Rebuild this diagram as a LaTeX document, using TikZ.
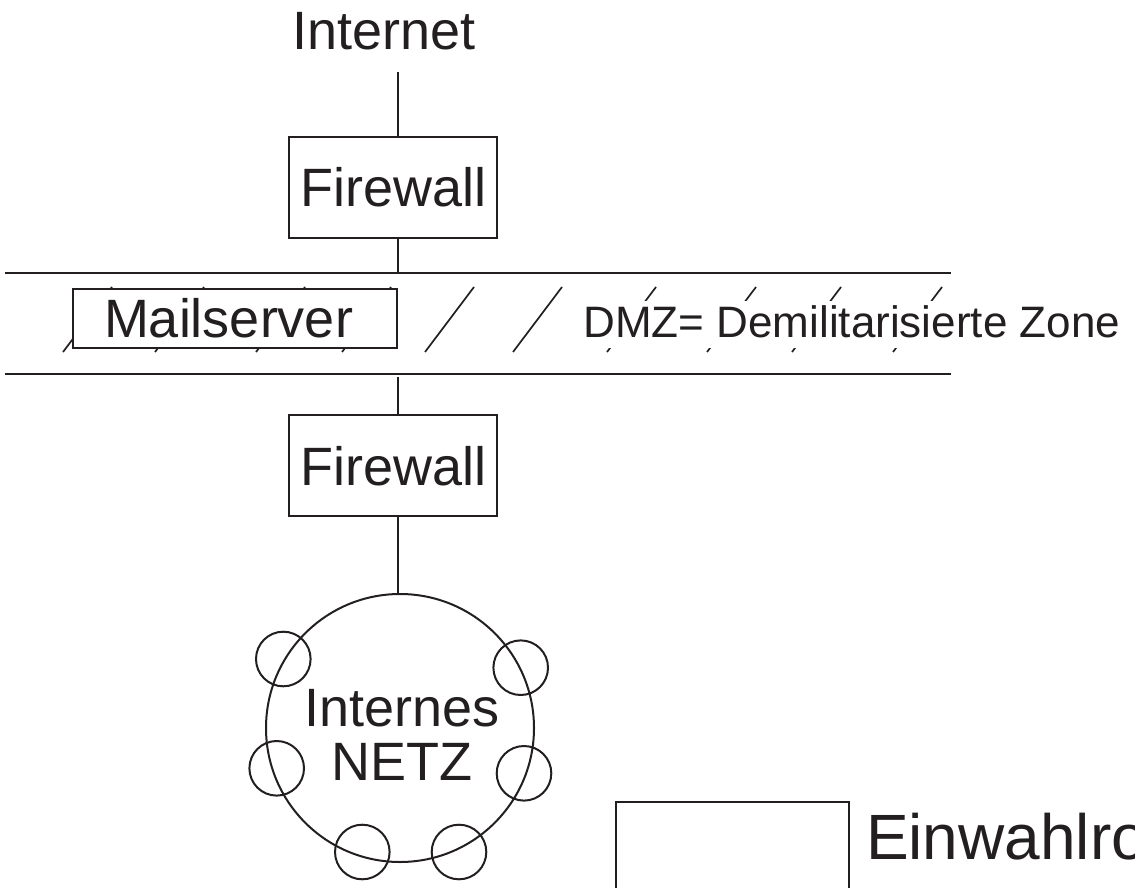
\documentclass[tikz,border=0pt]{standalone}
\usepackage{fontspec}
\setmainfont{Liberation Sans}
\definecolor{ink}{RGB}{35,31,32}
\begin{document}
\begin{tikzpicture}[x=1pt,y=-1pt,line width=2pt,color=ink,
  fwbox/.style={draw,fill=white,inner sep=0pt,minimum width=208pt,minimum height=101pt,font=\fontsize{54}{54}\selectfont},
  bigtext/.style={inner sep=0pt,font=\fontsize{54}{54}\selectfont},
  hatch/.style={line width=1.7pt},
  node/.style={draw,circle,inner sep=0pt,minimum size=54.6pt}]
\useasboundingbox (0,0) rectangle (1135,888);
\clip (0,0) rectangle (1135,888);

% DMZ band
\coordinate (bandTL) at (5,273.3);
\coordinate (bandTR) at (951,273.3);
\coordinate (bandBL) at (5,374.3);
\coordinate (bandBR) at (951,374.3);
\draw (bandTL) -- (bandTR);
\draw (bandBL) -- (bandBR);
\foreach \x in {63,155,256,342,425,513,607,707,792,893}
  \draw[hatch] (\x,352) -- ++(49,-65);

\node[draw,fill=white,inner sep=0pt,minimum width=324.6pt,minimum height=59pt] (ms) at (235,318.5) {};
\node[bigtext,anchor=base west] (mstext) at (103,337) {Mailserver};
\node[fill=white,inner sep=0pt,text height=37pt,text depth=10pt,anchor=base west,
      font=\fontsize{44}{44}\selectfont] (dmz) at (582.5,337.5) {DMZ= Demilitarisierte Zone};

% top
\node[bigtext,anchor=base west] (inet) at (291,50) {Internet};
\coordinate (inetend) at (397.7,72);
\node[fwbox] (fw1) at (393.3,187.2) {Firewall};
\node[fwbox] (fw2) at (393.3,465.9) {Firewall};
\coordinate (bandgap) at (397.7,376.7);

% internal net
\node[draw,circle,inner sep=0pt,minimum size=268pt] (net) at (400,728) {};
\node[bigtext,align=center,anchor=north] (nettext) at (402,688) {Internes\\NETZ};
\node[node] (c1) at (283.3,659) {};
\node[node] (c2) at (520.7,667.7) {};
\node[node] (c3) at (276.7,768.3) {};
\node[node] (c4) at (524,773.3) {};
\node[node] (c5) at (362.3,852) {};
\node[node] (c6) at (459,852) {};

% connectors
\draw (inetend) -- (inetend |- fw1.north);
\draw (fw1.south -| inetend) -- (inetend |- bandTL);
\draw (bandgap) -- (bandgap |- fw2.north);
\draw (fw2.south -| inetend) -- (inetend |- net.north);

% dial-in
\node[draw,inner sep=0pt,minimum width=233.3pt,minimum height=110pt,anchor=north west] (ewbox) at (614.7,800.7) {};
\node[inner sep=0pt,anchor=base west,font=\fontsize{64}{64}\selectfont] (ew) at (865,859) {Einwahlro};
\end{tikzpicture}
\end{document}
